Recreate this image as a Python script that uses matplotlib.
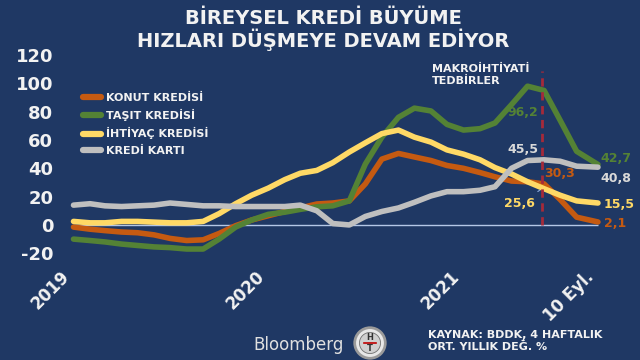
import pandas as pd
import matplotlib.pyplot as plt
from matplotlib.patches import Circle

# monthly readings, last point is 10 Sept 2021
dates = list(pd.date_range('2019-01-01', '2021-08-01', freq='MS')) + [pd.Timestamp('2021-09-10')]

konut = [-1.5, -3, -4, -5, -5.5, -7, -9.5, -11, -10.5, -6, -0.5, 3.5,
         6.5, 9.5, 12, 14.8, 15.5, 17, 29, 46.5, 50.5, 48, 45.5, 42,
         40, 37, 34, 31, 30.5, 29, 18, 5.5, 2.1]
tasit = [-10, -11, -12, -13.5, -14.5, -15.5, -16, -17, -17, -10, -1.5, 3.5,
         7.5, 9, 11, 12.8, 13.5, 17, 43, 62, 76, 82.5, 80.5, 71,
         67, 68, 72, 85, 98, 95, 74, 52, 42.7]
ihtiyac = [2.5, 1.5, 1.5, 2.5, 2.5, 2, 1.5, 1.5, 2.5, 8, 15, 21,
           26, 32, 36.5, 38.5, 44, 51.5, 58, 64.5, 67, 62, 58.5, 53,
           50, 46, 40.5, 36, 30.5, 25.6, 21, 17, 15.5]
kart = [14, 15, 13.5, 13, 13.5, 14, 15.5, 14.5, 13.5, 13.5, 13, 13,
        13, 13, 14, 10, 1, 0, 6, 9.5, 12, 16, 20.5, 23.5,
        23.5, 24.5, 27, 40, 45.5, 46, 45, 41.5, 40.8]

series_names = ['KONUT KREDİSİ', 'TAŞIT KREDİSİ', 'İHTİYAÇ KREDİSİ', 'KREDİ KARTI']
colors = ['#c55a11', '#548235', '#ffd966', '#bfbfbf']

tedbir_date = pd.Timestamp('2021-05-28')
tedbir_vals = {'tasit': 96.2, 'kart': 45.5, 'konut': 30.3, 'ihtiyac': 25.6}

year_ticks = [pd.Timestamp('2019-01-01'), pd.Timestamp('2020-01-01'),
              pd.Timestamp('2021-01-01'), pd.Timestamp('2021-09-10')]
year_labels = ['2019', '2020', '2021', '10 Eyl.']

bg = '#1f3864'
white = '#f2f2f2'

fig = plt.figure(figsize=(6.4, 3.6), dpi=100, facecolor=bg)
ax = fig.add_axes([0.094, 0.265, 0.867, 0.59])
ax.set_facecolor(bg)

ax.hlines(0, dates[0], dates[-1], color='#b4c7e7', lw=1, zorder=1)

for vals, name, c in zip([konut, tasit, ihtiyac, kart], series_names, colors):
    ax.plot(dates, vals, color=c, lw=4, label=name, solid_capstyle='round',
            solid_joinstyle='round', zorder=2)

ax.vlines(tedbir_date, 0, 109, colors='#a52a3a', linestyles=(0, (3, 2)), lw=2, zorder=3)

ax.set_xlim(pd.Timestamp('2018-12-07'), pd.Timestamp('2021-10-12'))
ax.set_ylim(-28, 122)
ax.set_yticks(range(-20, 121, 20))
ax.set_yticklabels([str(v) for v in range(-20, 121, 20)])
ax.set_xticks(year_ticks)
ax.set_xticklabels(year_labels, rotation=45, ha='right', va='top')
ax.tick_params(length=0, colors=white)
ax.tick_params(axis='y', pad=5, labelsize=13)
ax.tick_params(axis='x', pad=2, labelsize=12)
for lab in ax.get_xticklabels() + ax.get_yticklabels():
    lab.set_fontweight('bold')
for s in ax.spines.values():
    s.set_visible(False)

leg = ax.legend(loc='upper left', bbox_to_anchor=(128 / 640 - 0.0, 1 - 92 / 360), bbox_transform=fig.transFigure,
                frameon=False, fontsize=8, handlelength=1.6, handletextpad=0.5,
                labelspacing=0.55, borderpad=0, borderaxespad=0)
leg.set_bbox_to_anchor((83 / 640, 1 - 93 / 360), transform=fig.transFigure)
for t in leg.get_texts():
    t.set_color(white)
    t.set_fontweight('bold')
for h in leg.get_lines():
    h.set_linewidth(4.5)

lab_kw = dict(textcoords='offset points', fontsize=9, fontweight='bold', va='center')
ax.annotate('96,2', (tedbir_date, tedbir_vals['tasit']), xytext=(-14, -17), ha='center', color='#548235', **lab_kw)
ax.annotate('45,5', (tedbir_date, tedbir_vals['kart']), xytext=(-14, 8), ha='center', color='#d9d9d9', **lab_kw)
ax.annotate('30,3', (tedbir_date, tedbir_vals['konut']), xytext=(13, 6), ha='center', color='#c55a11', **lab_kw)
ax.annotate('25,6', (tedbir_date, tedbir_vals['ihtiyac']), xytext=(-16, -11), ha='center', color='#ffd966',
            arrowprops=dict(arrowstyle='-', color='#8eaadb', lw=0.8, shrinkA=4, shrinkB=2), **lab_kw)

end_offsets = [(4, -1), (2, 4), (4, -1), (2, -8)]
for vals, c, off in zip([konut, tasit, ihtiyac, kart], ['#c55a11', '#548235', '#ffd966', '#d9d9d9'], end_offsets):
    ax.annotate(f'{vals[-1]:.1f}'.replace('.', ','), (dates[-1], vals[-1]), xytext=off,
                ha='left', color=c, annotation_clip=False, **lab_kw)

fig.text(0.505, 1 - 18 / 360, 'BİREYSEL KREDİ BÜYÜME', ha='center', va='center',
         fontsize=14, fontweight='bold', color=white)
fig.text(0.505, 1 - 40 / 360, 'HIZLARI DÜŞMEYE DEVAM EDİYOR', ha='center', va='center',
         fontsize=14, fontweight='bold', color=white)
fig.text(432 / 640, 1 - 75 / 360, 'MAKROİHTİYATİ\nTEDBİRLER', ha='left', va='center',
         fontsize=8, fontweight='bold', color=white, linespacing=1.3)

fig.text(299 / 640, 15 / 360, 'Bloomberg', ha='center', va='center', fontsize=12, color='#e0e0e0')
fig.text(428 / 640, 19 / 360, 'KAYNAK: BDDK, 4 HAFTALIK\nORT. YILLIK DEĞ. %', ha='left', va='center',
         fontsize=8, fontweight='bold', color=white, linespacing=1.2)

# HT logo
lg = fig.add_axes([353 / 640, 0, 34 / 640, 34 / 360])
lg.set_xlim(-1, 1)
lg.set_ylim(-1, 1)
lg.axis('off')
lg.add_patch(Circle((0, 0), 0.98, fc='#9a9a9a', ec='none'))
lg.add_patch(Circle((0, 0), 0.82, fc='#e8e8e8', ec='none'))
lg.add_patch(Circle((0, 0), 0.62, fc='#d0d0d0', ec='#707070', lw=0.6))
lg.text(0, 0.3, 'H', ha='center', va='center', fontsize=6, fontweight='bold', color='#333333')
lg.text(0, -0.32, 'T', ha='center', va='center', fontsize=6, fontweight='bold', color='#333333')
lg.plot([-0.35, 0.35], [0, 0], color='#c00000', lw=1.2)

fig.savefig('out.png', dpi=100, facecolor=bg)
